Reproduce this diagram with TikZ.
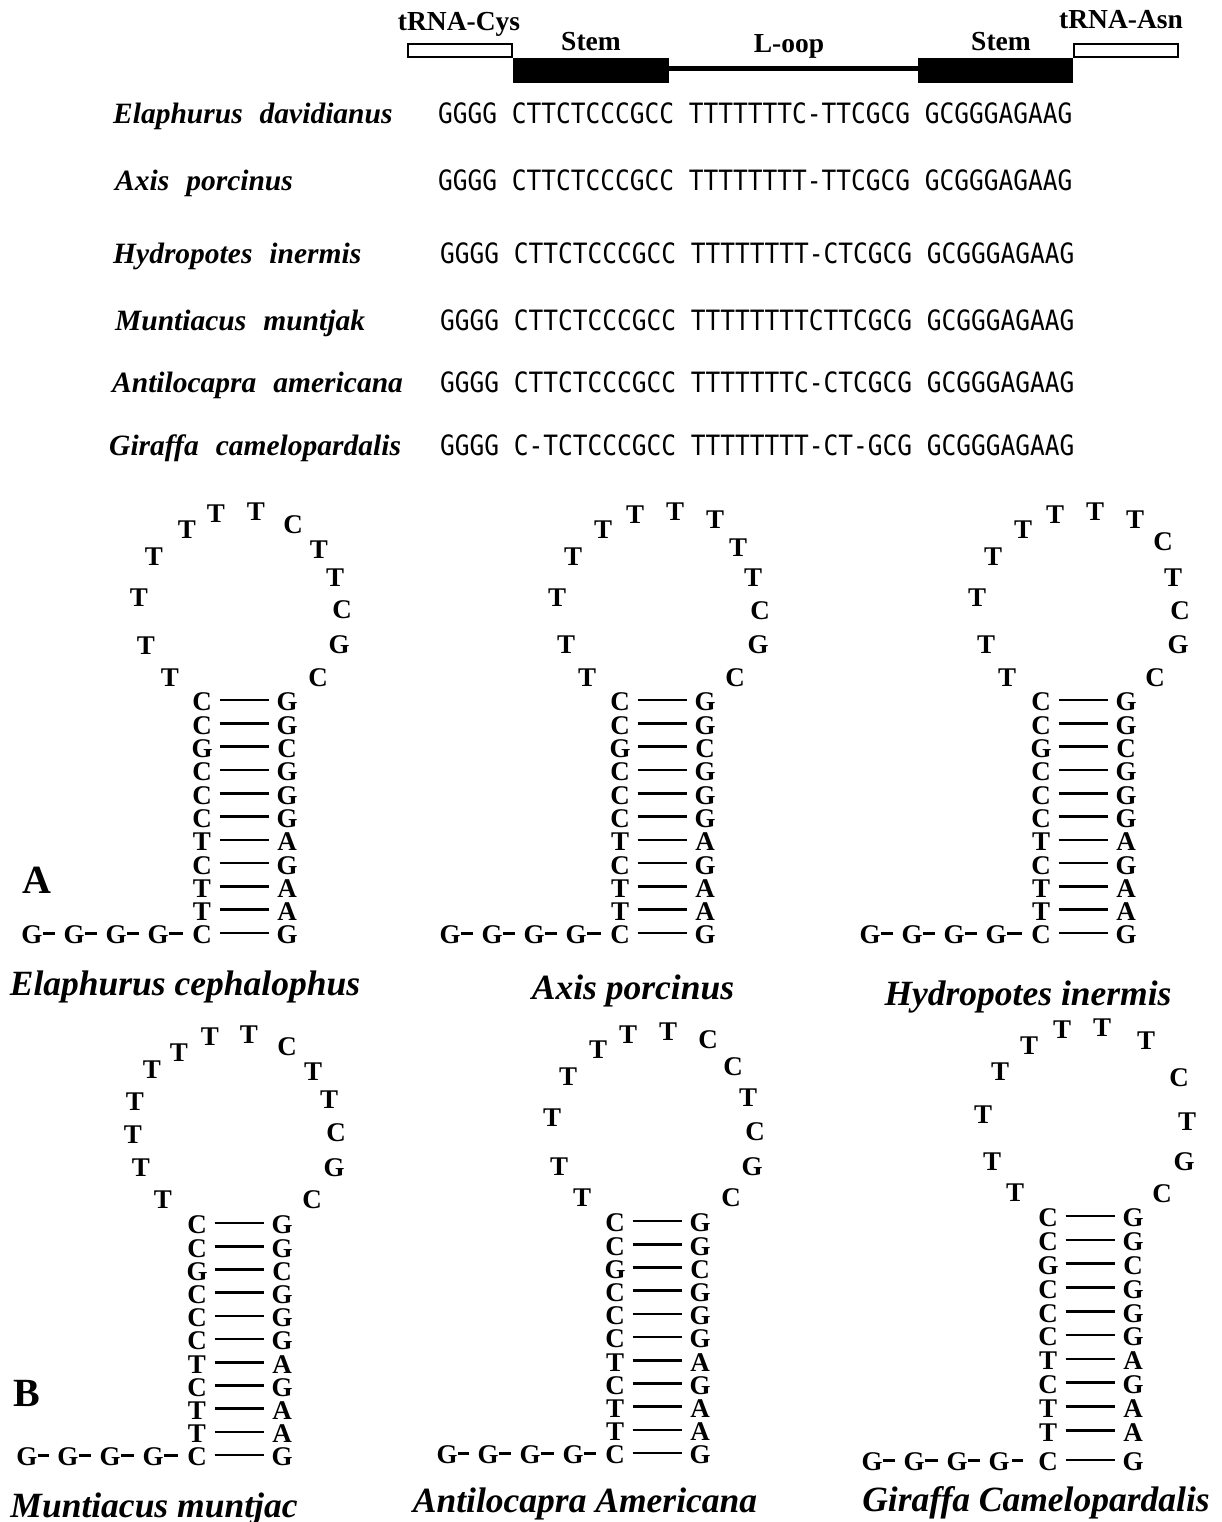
\documentclass[tikz,border=0pt]{standalone}
\usepackage{fontspec}
\setmainfont{Liberation Serif}
\newfontfamily\seqfont[FakeStretch=0.875]{DejaVu Sans Mono}
\usetikzlibrary{calc}

\tikzset{
  nt/.style={font=\fontsize{27}{27}\selectfont\bfseries, inner sep=0pt,
             text height=17.9pt, text depth=0pt, minimum width=21pt},
  bond/.style={line width=2.6pt, shorten <=7pt, shorten >=7pt},
  link/.style={line width=2.8pt, shorten <=0.5pt, shorten >=8.5pt},
  species/.style={font=\fontsize{29.5}{29.5}\selectfont\bfseries\itshape, anchor=base west, inner sep=0pt},
  seq/.style={font=\fontsize{28}{28}\seqfont, anchor=base west, inner sep=0pt},
  caption/.style={font=\fontsize{35.5}{35.5}\selectfont\bfseries\itshape, anchor=base, inner sep=0pt},
  panel/.style={font=\fontsize{40}{40}\selectfont\bfseries, anchor=base, inner sep=0pt},
  hdr/.style={font=\fontsize{27.5}{27.5}\selectfont\bfseries, anchor=base, inner sep=0pt},
  flank/.style={draw, line width=2.2pt, fill=white},
}

% stem of eleven pairs plus the G-G-G-G tail
% #1 prefix, #2 left column x, #3 top row y, #4 row step, #5 extra drop of bottom row,
% #6 tail x offsets, #7 style of the last tail link
\newcommand\stemstack[7]{%
  \foreach \lt/\rt [count=\i] in {C/G,C/G,G/C,C/G,C/G,C/G,T/A,C/G,T/A,T/A,C/G}{
    \pgfmathsetmacro\yy{#3+(\i-1)*#4+(\i==11)*#5}
    \node[nt] (#1l\i) at (#2,\yy) {\lt};
    \node[nt] (#1r\i) at (#2+85,\yy) {\rt};
    \draw[bond] ([yshift=2pt]#1l\i.east) -- ([yshift=2pt]#1r\i.west);
  }
  \pgfmathsetmacro\yb{#3+10*#4+#5}
  \foreach \dx [count=\j] in {#6}{
    \node[nt] (#1g\j) at (#2+\dx,\yb) {G};
  }
  \draw[link] ([yshift=1.5pt]#1g1.east) -- ([yshift=1.5pt]#1g2.west);
  \draw[link] ([yshift=1.5pt]#1g2.east) -- ([yshift=1.5pt]#1g3.west);
  \draw[link] ([yshift=1.5pt]#1g3.east) -- ([yshift=1.5pt]#1g4.west);
  \draw[link,#7] ([yshift=1.5pt]#1g4.east) -- ([yshift=1.5pt]#1l11.west);
}

% loop letters
\newcommand\loopletters[2]{%
  \foreach \px/\py/\b [count=\k] in {#2}{
    \node[nt] (#1t\k) at (\px,\py) {\b};
  }
}

\begin{document}
\begin{tikzpicture}[x=1pt,y=-1pt]
\useasboundingbox (0,0) rectangle (1221,1522);
\fill[white] (0,0) rectangle (1221,1522);

% ---- gene map ----
\draw[flank] (408,44) rectangle (512,57);
\fill (513,58) rectangle (669,83);
\fill (669,66) rectangle (918,71);
\fill (918,58) rectangle (1073,83);
\draw[flank] (1074,44) rectangle (1178,57);
\node[hdr] (cys) at (459,31) {tRNA-Cys};
\node[hdr] (stemL) at (591,51) {Stem};
\node[hdr] (loopL) at (789,53) {L-oop};
\node[hdr] (stemR) at (1001,51) {Stem};
\node[hdr] (asn) at (1121,29) {tRNA-Asn};

% ---- alignment ----
\node[species] (sp1) at (113,124) {Elaphurus\hspace{17pt}davidianus};
\node[species] (sp2) at (115,191) {Axis\hspace{17pt}porcinus};
\node[species] (sp3) at (113,263) {Hydropotes\hspace{17pt}inermis};
\node[species] (sp4) at (115,330) {Muntiacus\hspace{17pt}muntjak};
\node[species] (sp5) at (112,392) {Antilocapra\hspace{17pt}americana};
\node[species] (sp6) at (109,455) {Giraffa\hspace{17pt}camelopardalis};

\node[seq] (sq1) at (438,124) {GGGG CTTCTCCCGCC TTTTTTTC-TTCGCG GCGGGAGAAG};
\node[seq] (sq2) at (438,191) {GGGG CTTCTCCCGCC TTTTTTTT-TTCGCG GCGGGAGAAG};
\node[seq] (sq3) at (440,263) {GGGG CTTCTCCCGCC TTTTTTTT-CTCGCG GCGGGAGAAG};
\node[seq] (sq4) at (440,330) {GGGG CTTCTCCCGCC TTTTTTTTCTTCGCG GCGGGAGAAG};
\node[seq] (sq5) at (440,392) {GGGG CTTCTCCCGCC TTTTTTTC-CTCGCG GCGGGAGAAG};
\node[seq] (sq6) at (440,455) {GGGG C-TCTCCCGCC TTTTTTTT-CT-GCG GCGGGAGAAG};

% ---- panel A ----
\node[panel] (labA) at (37,893) {A};

\stemstack{a}{202}{702}{23.3}{0}{-170,-128,-86,-44}{}
\loopletters{a}{170/678/T,146/646/T,139/598/T,154/557/T,187/530/T,216/514/T,256/512/T,
  293/525/C,319/550/T,335/578/T,342/610/C,339/645/G,318/678/C}
\node[caption] (capa) at (185,995) {Elaphurus cephalophus};

\stemstack{b}{620}{702}{23.3}{0}{-170,-128,-86,-44}{}
\loopletters{b}{587/678/T,566/645/T,557/598/T,573/557/T,603/530/T,635/515/T,675/512/T,
  715/520/T,738/548/T,753/578/T,760/611/C,758/645/G,735/678/C}
\node[caption] (capb) at (633,999) {Axis porcinus};

\stemstack{c}{1041}{702}{23.3}{0}{-171,-129,-87,-45}{}
\loopletters{c}{1007/678/T,986/645/T,977/598/T,993/557/T,1023/530/T,1055/515/T,1095/512/T,
  1135/520/T,1163/542/C,1173/578/T,1180/611/C,1178/645/G,1155/678/C}
\node[caption] (capc) at (1028,1005) {Hydropotes inermis};

% ---- panel B ----
\node[panel] (labB) at (27,1406) {B};

\stemstack{d}{197}{1225}{23.2}{0}{-170,-129,-87,-44}{}
\loopletters{d}{163/1200/T,141/1168/T,133/1135/T,135/1102/T,152/1070/T,179/1053/T,210/1037/T,
  249/1035/T,287/1047/C,313/1072/T,329/1100/T,336/1133/C,334/1168/G,312/1200/C}
\node[caption] (capd) at (154,1517) {Muntiacus muntjac};

\stemstack{e}{615}{1223}{23.2}{0}{-168,-127,-85,-42}{}
\loopletters{e}{582/1198/T,559/1167/T,552/1118/T,568/1077/T,598/1050/T,628/1035/T,668/1032/T,
  708/1040/C,733/1067/C,748/1098/T,755/1132/C,752/1167/G,731/1198/C}
\node[caption] (cape) at (585,1512) {Antilocapra Americana};

\stemstack{f}{1048}{1218}{23.8}{6}{-176,-134,-91,-49}{shorten <=2.5pt, shorten >=14.5pt}
\loopletters{f}{1015/1193/T,992/1162/T,983/1115/T,1000/1072/T,1029/1046/T,1062/1030/T,1102/1028/T,
  1146/1041/T,1179/1078/C,1187/1122/T,1184/1162/G,1162/1194/C}
\node[caption] (capf) at (1036,1511) {Giraffa Camelopardalis};
\end{tikzpicture}
\end{document}
